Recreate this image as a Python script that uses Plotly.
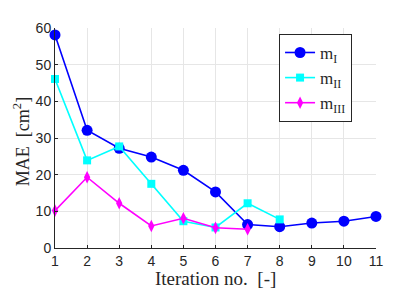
import plotly.graph_objects as go

iterations_I = [1, 2, 3, 4, 5, 6, 7, 8, 9, 10, 11]
mae_I = [58.1, 32.1, 27.2, 24.8, 21.2, 15.3, 6.4, 5.8, 6.8, 7.3, 8.6]
iterations_II = [1, 2, 3, 4, 5, 6, 7, 8]
mae_II = [46.1, 23.9, 27.7, 17.5, 7.3, 5.6, 12.2, 7.8]
iterations_III = [1, 2, 3, 4, 5, 6, 7]
mae_III = [10.2, 19.3, 12.2, 6.0, 8.1, 5.5, 5.1]
x_ticks = list(range(1, 12))
y_ticks = [0, 10, 20, 30, 40, 50, 60]
x_title = "Iteration no.  [-]"
y_title = "MAE  [cm<sup>2</sup>]"

serif = "Liberation Serif, Times New Roman, serif"
sans = "Liberation Sans, Arial, sans-serif"

fig = go.Figure()
fig.add_trace(go.Scatter(x=iterations_I, y=mae_I, mode="lines+markers", name="m<sub>I</sub>",
                         line=dict(color="#0000ff", width=1.6),
                         marker=dict(symbol="circle", size=11, color="#0000ff"), cliponaxis=False))
fig.add_trace(go.Scatter(x=iterations_II, y=mae_II, mode="lines+markers", name="m<sub>II</sub>",
                         line=dict(color="#00ffff", width=1.6),
                         marker=dict(symbol="square", size=8, color="#00ffff"), cliponaxis=False))
fig.add_trace(go.Scatter(x=iterations_III, y=mae_III, mode="lines+markers", name="m<sub>III</sub>",
                         line=dict(color="#ff00ff", width=1.6),
                         marker=dict(symbol="diamond-tall", size=9, color="#ff00ff"), cliponaxis=False))

# page body adds an 8px offset, so the figure is sized 407x288
fig.update_layout(
    width=407, height=288,
    margin=dict(l=47, r=39, t=14, b=48),
    paper_bgcolor="white", plot_bgcolor="white",
    showlegend=True,
    legend=dict(x=0.698, y=0.973, xanchor="left", yanchor="top",
                bgcolor="white", bordercolor="#262626", borderwidth=1,
                font=dict(family=serif, size=17, color="#262626")),
    xaxis=dict(range=[1, 11], tickvals=x_ticks, showgrid=True, gridcolor="#e6e6e6", gridwidth=1,
               showline=True, linecolor="#262626", linewidth=1, ticks="inside", ticklen=3,
               tickcolor="#262626", zeroline=False,
               tickfont=dict(family=sans, size=14, color="#262626")),
    yaxis=dict(range=[0, 60], tickvals=y_ticks, showgrid=True, gridcolor="#e6e6e6", gridwidth=1,
               showline=True, linecolor="#262626", linewidth=1, ticks="inside", ticklen=3,
               tickcolor="#262626", zeroline=False,
               tickfont=dict(family=sans, size=14, color="#262626")),
    annotations=[
        dict(text=x_title, xref="paper", yref="paper", x=0.5, y=-0.14,
             xanchor="center", yanchor="middle", showarrow=False,
             font=dict(family=serif, size=19, color="#262626")),
        dict(text=y_title, xref="paper", yref="paper", x=-0.104, y=0.484,
             xanchor="center", yanchor="middle", showarrow=False, textangle=-90,
             font=dict(family=serif, size=18, color="#262626")),
    ],
)

fig.write_html("out.html")
